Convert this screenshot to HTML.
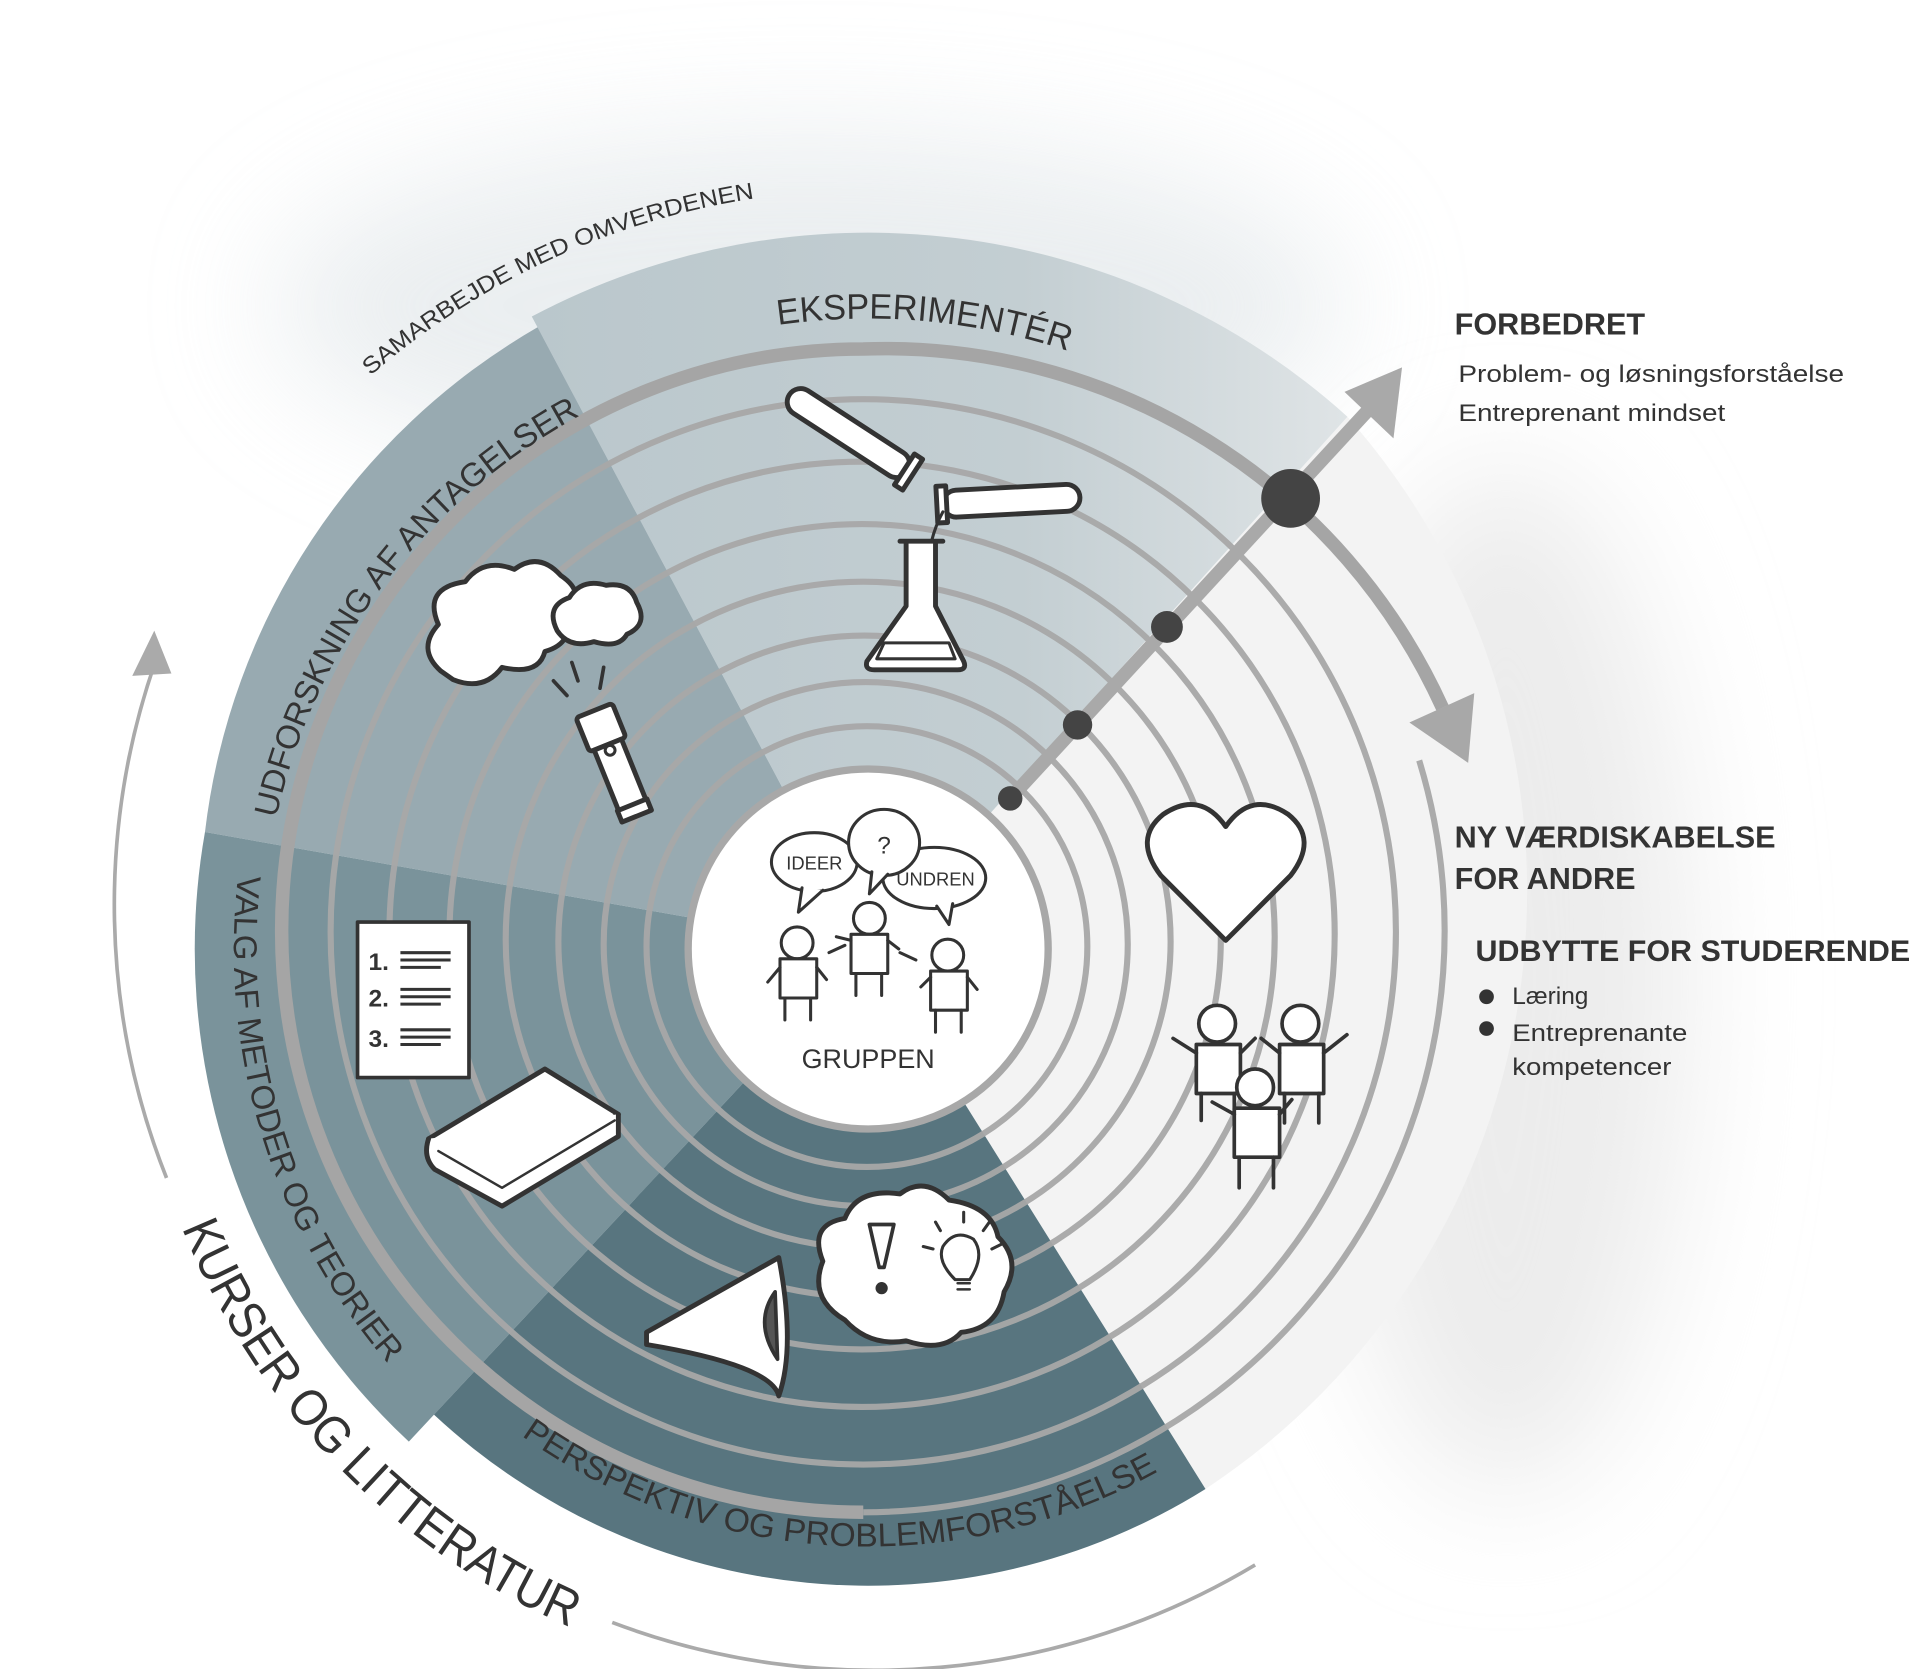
<!DOCTYPE html>
<html><head><meta charset="utf-8"><style>
html,body{margin:0;padding:0;background:#fff;}
svg{display:block;}
text{font-family:"Liberation Sans",sans-serif;}
</style></head><body>
<svg width="1920" height="1669" viewBox="0 0 1568 1363" preserveAspectRatio="none" xmlns="http://www.w3.org/2000/svg">
<defs>
<filter id="blur" x="-50%" y="-50%" width="200%" height="200%"><feGaussianBlur stdDeviation="50"/></filter>
<linearGradient id="ekg" x1="0" y1="0" x2="1" y2="0">
<stop offset="0" stop-color="#bac7cc"/><stop offset="0.6" stop-color="#c3ced2"/><stop offset="1" stop-color="#dfe4e6"/></linearGradient>
<path id="pSam" d="M147.1 513 A620 620 0 0 1 921 192.4" fill="none"/>
<path id="pEks" d="M225.1 598.9 A515 515 0 0 1 1192.9 598.9" fill="none"/>
<path id="pUdf" d="M221.5 861 A495 495 0 0 1 623 287.5" fill="none"/>
<path id="pVal" d="M222.2 597.8 A518 518 0 0 0 531.8 1261.8" fill="none"/>
<path id="pPer" d="M286.4 1019 A488 488 0 0 0 1131.6 1019" fill="none"/>
<path id="pKur" d="M113.2 880.1 A605 605 0 0 0 1011.5 1299" fill="none"/>
</defs>

<ellipse cx="660" cy="250" rx="440" ry="140" fill="#dde3e6" opacity="0.6" filter="url(#blur)"/>
<ellipse cx="1230" cy="800" rx="150" ry="420" fill="#ececec" filter="url(#blur)"/>

<path d="M709 775 L1100.4 340.3 A585 585 0 0 1 984.5 1216 Z" fill="#f3f3f3"/>
<path d="M709 775 L434.3 258.5 A585 585 0 0 1 1100.4 340.3 Z" fill="url(#ekg)"/>
<path d="M709 775 L167.4 679.5 A550 550 0 0 1 439 267.3 Z" fill="#98aab1"/>
<path d="M709 775 L333.9 1177.3 A550 550 0 0 1 167.4 679.5 Z" fill="#7a939b"/>
<path d="M709 775 L984.5 1216 A520 520 0 0 1 354.4 1155.3 Z" fill="#58757f"/>

<g fill="none" stroke="#a8a8a8" stroke-width="5" opacity="0.95">
<circle cx="708" cy="773" r="180"/>
<circle cx="707" cy="771" r="214"/>
<circle cx="706" cy="769" r="250"/>
<circle cx="705" cy="767" r="292"/>
<circle cx="704" cy="765" r="337"/>
<circle cx="704" cy="763" r="386"/>
<circle cx="705" cy="761" r="435"/>
<path d="M1159 621 A475 475 0 0 1 705 1235"/>
</g>
<path d="M705 1235 A475 475 0 0 1 230 760 A475 475 0 0 1 705 285 A500 500 0 0 1 1178 578" fill="none" stroke="#a5a5a5" stroke-width="11"/>
<polygon points="1151,590 1204,566 1199,623" fill="#a8a8a8"/>

<line x1="825" y1="652" x2="1120" y2="332" stroke="#a9a9a9" stroke-width="11"/>
<polygon points="1145,300 1098,320 1138,358" fill="#a9a9a9"/>
<circle cx="825" cy="652" r="10" fill="#444"/>
<circle cx="880" cy="592" r="12" fill="#444"/>
<circle cx="953" cy="512" r="13" fill="#444"/>
<circle cx="1054" cy="407" r="24" fill="#444"/>

<circle cx="709" cy="775" r="147" fill="#fff" stroke="#a8a8a8" stroke-width="6"/>

<path d="M136 962 A605 605 0 0 1 127 540" fill="none" stroke="#aaa" stroke-width="3"/>
<polygon points="126,515 108,552 140,550" fill="#aaa"/>
<path d="M500 1325 A605 605 0 0 0 1025 1278" fill="none" stroke="#aaa" stroke-width="3"/>

<text font-size="19" fill="#333"><textPath href="#pSam" startOffset="260" textLength="350" lengthAdjust="spacingAndGlyphs">SAMARBEJDE MED OMVERDENEN</textPath></text>
<text font-size="29" fill="#333"><textPath href="#pEks" startOffset="555" textLength="240" lengthAdjust="spacingAndGlyphs">EKSPERIMENTÉR</textPath></text>
<text font-size="27" fill="#333"><textPath href="#pUdf" startOffset="194" textLength="425" lengthAdjust="spacingAndGlyphs">UDFORSKNING AF ANTAGELSER</textPath></text>
<text font-size="27" fill="#333"><textPath href="#pVal" startOffset="120" textLength="430" lengthAdjust="spacingAndGlyphs">VALG AF METODER OG TEORIER</textPath></text>
<text font-size="27" fill="#333"><textPath href="#pPer" startOffset="209" textLength="549" lengthAdjust="spacingAndGlyphs">PERSPEKTIV OG PROBLEMFORSTÅELSE</textPath></text>
<text font-size="42" fill="#333"><textPath href="#pKur" startOffset="128" textLength="466" lengthAdjust="spacingAndGlyphs">KURSER OG LITTERATUR</textPath></text>

<g stroke="#333" stroke-width="4" fill="#fff" stroke-linejoin="round" stroke-linecap="round">
<g transform="translate(695,355) rotate(33)">
<rect x="-60" y="-11" width="115" height="22" rx="11"/>
<rect x="52" y="-15" width="8" height="30"/>
</g>
<g transform="translate(825,409) rotate(-3)">
<rect x="-55" y="-11" width="112" height="22" rx="11"/>
<rect x="-60" y="-15" width="8" height="30"/>
</g>
<path d="M770 418 Q758 440 757 470" fill="none" stroke-width="2.5"/>
<path d="M735 442 L770 442 M740 442 L740 495 L708 540 Q706 547 714 547 L782 547 Q790 547 787 540 L764 495 L764 442"/>
<path d="M722 525 L775 525 L780 538 L716 538 Z" fill="#fff" stroke-width="2.5"/>
<path d="M360 548 Q340 530 358 510 Q345 480 380 475 Q395 455 420 465 Q440 450 458 470 Q480 485 462 500 Q470 525 445 532 Q440 552 410 545 Q395 565 370 555 Z"/>
<path d="M455 515 Q445 495 465 488 Q475 472 495 478 Q515 475 520 492 Q530 510 512 518 Q505 530 485 524 Q465 530 455 515 Z"/>
<g transform="translate(502,622) rotate(-22)">
<rect x="-16" y="-45" width="32" height="30" rx="3"/>
<rect x="-12" y="-15" width="24" height="55"/>
<rect x="-13" y="38" width="26" height="10"/>
<circle cx="0" cy="-10" r="4" stroke-width="2.5"/>
</g>
<path d="M463 568 L452 556 M472 556 L467 541 M490 562 L493 545" fill="none" stroke-width="3"/>
<rect x="292" y="753" width="91" height="127" stroke-width="3"/>
<path d="M350 930 L445 873 L505 910 L410 968 Z"/>
<path d="M350 930 Q345 945 355 955 L410 985 L505 928 L505 910"/>
<path d="M358 940 L410 970 L502 915" fill="none" stroke-width="2"/>
<path d="M528 1088 L636 1027 Q650 1100 636 1140 Q630 1115 528 1098 Z" stroke-width="4"/>
<path d="M633 1055 Q615 1080 635 1110 Z" fill="#555" stroke-width="3"/>
<path d="M690 1078 Q660 1060 672 1030 Q660 1000 690 995 Q700 970 735 975 Q755 960 775 980 Q810 985 815 1010 Q835 1030 820 1055 Q815 1085 785 1088 Q770 1105 740 1095 Q710 1100 690 1078 Z"/>
<path d="M710 1000 L730 1000 L722 1035 L718 1035 Z" fill="#fff" stroke-width="3"/>
<circle cx="720" cy="1052" r="5" fill="#333" stroke="none"/>
<path d="M780 1045 Q765 1030 770 1018 Q780 1003 795 1012 Q805 1025 792 1045 Z" stroke-width="2.5"/>
<path d="M782 1048 L792 1048 M782 1053 L792 1053" stroke-width="2"/>
<path d="M768 1005 L764 998 M787 998 L787 990 M803 1005 L808 998 M762 1020 L754 1018 M810 1020 L818 1016" fill="none" stroke-width="2.5"/>
<path d="M1001 768 L948 715 Q925 685 950 665 Q980 645 1001 675 Q1022 645 1052 665 Q1077 685 1054 715 Z"/>
<g stroke-width="3">
<circle cx="994" cy="836" r="15"/><rect x="977" y="853" width="36" height="40"/>
<path d="M981 893 L981 915 M1008 893 L1008 915 M977 860 L958 848 M1013 860 L1025 848" fill="none"/>
<circle cx="1062" cy="836" r="15"/><rect x="1045" y="853" width="36" height="40"/>
<path d="M1049 893 L1049 917 M1077 893 L1077 917 M1045 860 L1030 848 M1081 860 L1100 845" fill="none"/>
<circle cx="1025" cy="888" r="15"/><rect x="1008" y="905" width="37" height="40"/>
<path d="M1012 945 L1012 970 M1040 945 L1040 970 M1008 910 L990 900 M1045 910 L1055 898" fill="none"/>
</g>
<g stroke-width="2.5">
<ellipse cx="665" cy="704" rx="35" ry="24"/>
<path d="M655 725 L652 745 L672 727" fill="#fff"/>
<ellipse cx="763" cy="717" rx="42" ry="25"/>
<path d="M765 740 L775 755 L778 738" fill="#fff"/>
<ellipse cx="722" cy="688" rx="29" ry="27"/>
<path d="M712 712 L710 730 L725 714" fill="#fff"/>
<circle cx="651" cy="770" r="13"/><rect x="637" y="783" width="30" height="32"/>
<path d="M641 815 L641 833 M662 815 L662 833 M637 790 L627 802 M667 790 L675 800" fill="none"/>
<circle cx="710" cy="750" r="13"/><rect x="695" y="763" width="30" height="32"/>
<path d="M699 795 L699 813 M720 795 L720 813 M695 768 L683 765 M725 768 L734 775" fill="none"/>
<circle cx="774" cy="780" r="13"/><rect x="760" y="793" width="30" height="32"/>
<path d="M764 825 L764 843 M785 825 L785 843 M760 798 L752 806 M790 798 L798 808" fill="none"/>
<path d="M690 772 L677 778 M735 778 L748 784" fill="none"/>
</g>
</g>
<g fill="#333">
<text x="722" y="697" font-size="20" text-anchor="middle">?</text>
<text x="665" y="710" font-size="15" text-anchor="middle">IDEER</text>
<text x="764" y="723" font-size="15" text-anchor="middle">UNDREN</text>
<text x="709" y="872" font-size="22" text-anchor="middle">GRUPPEN</text>
<text x="301" y="792" font-size="20" font-weight="bold">1.</text>
<text x="301" y="822" font-size="20" font-weight="bold">2.</text>
<text x="301" y="855" font-size="20" font-weight="bold">3.</text>
</g>
<g stroke="#333" stroke-width="2.5">
<path d="M327 778 L368 778 M327 784 L368 784 M327 790 L360 790"/>
<path d="M327 808 L368 808 M327 814 L368 814 M327 820 L360 820"/>
<path d="M327 841 L368 841 M327 847 L368 847 M327 853 L360 853"/>
</g>

<g fill="#333">
<text x="1188" y="273" font-size="25" font-weight="bold">FORBEDRET</text>
<text x="1191" y="312" font-size="20" textLength="315" lengthAdjust="spacingAndGlyphs">Problem- og løsningsforståelse</text>
<text x="1191" y="344" font-size="20" textLength="218" lengthAdjust="spacingAndGlyphs">Entreprenant mindset</text>
<text x="1188" y="692" font-size="25" font-weight="bold">NY VÆRDISKABELSE</text>
<text x="1188" y="726" font-size="25" font-weight="bold">FOR ANDRE</text>
<text x="1205" y="785" font-size="24" font-weight="bold" textLength="355" lengthAdjust="spacingAndGlyphs">UDBYTTE FOR STUDERENDE</text>
<circle cx="1214" cy="814" r="6"/>
<circle cx="1214" cy="840" r="6"/>
<text x="1235" y="820" font-size="20">Læring</text>
<text x="1235" y="850" font-size="20" textLength="143" lengthAdjust="spacingAndGlyphs">Entreprenante</text>
<text x="1235" y="878" font-size="20" textLength="130" lengthAdjust="spacingAndGlyphs">kompetencer</text>
</g>
</svg>
</body></html>
